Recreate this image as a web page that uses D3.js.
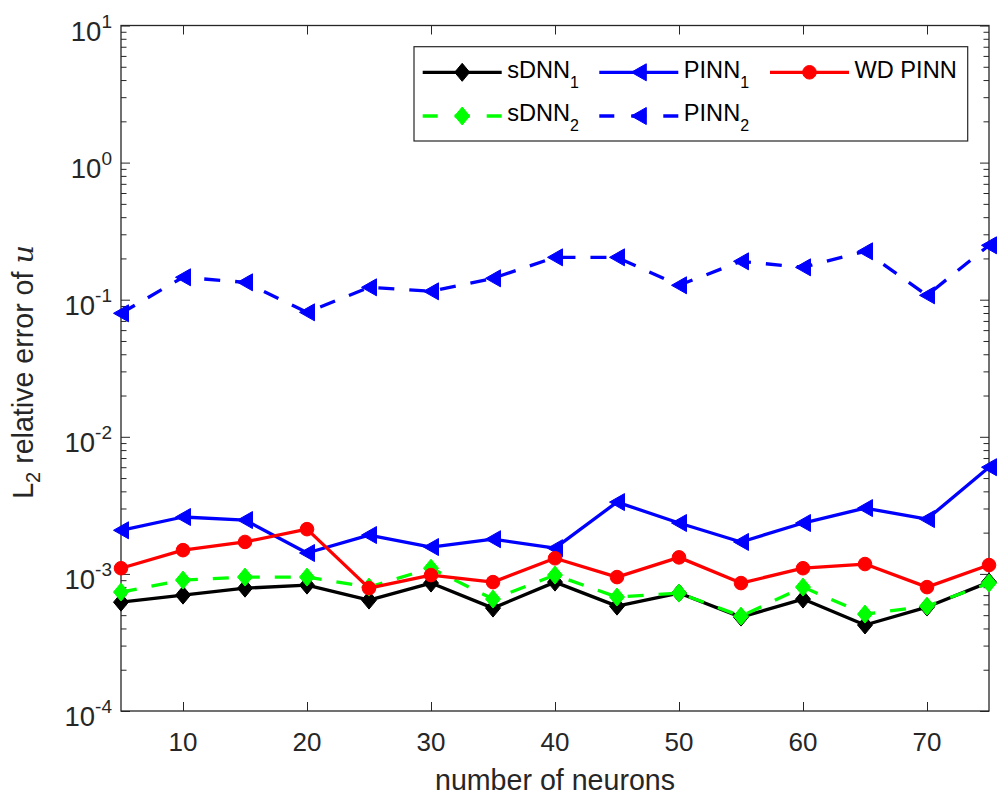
<!DOCTYPE html>
<html><head><meta charset="utf-8">
<script src="https://cdn.jsdelivr.net/npm/d3@7"></script>
<style>body{margin:0;background:#fff;}svg{display:block;font-family:"Liberation Sans",Arial,Helvetica,sans-serif;}</style>
</head><body>
<svg id="chart" width="997" height="803"></svg>
<script>
const neurons = [5,10,15,20,25,30,35,40,45,50,55,60,65,70,75];
const sDNN1 = [6.22e-4,7.00e-4,7.87e-4,8.28e-4,6.44e-4,8.57e-4,5.63e-4,8.71e-4,5.82e-4,7.25e-4,4.84e-4,6.55e-4,4.24e-4,5.73e-4,8.71e-4];
const sDNN2 = [7.37e-4,9.01e-4,9.48e-4,9.48e-4,8.01e-4,1.10e-3,6.55e-4,9.80e-4,6.78e-4,7.25e-4,4.92e-4,8.01e-4,5.09e-4,5.82e-4,8.57e-4];
const PINN1 = [2.08e-3,2.60e-3,2.47e-3,1.42e-3,1.92e-3,1.57e-3,1.79e-3,1.54e-3,3.34e-3,2.35e-3,1.71e-3,2.35e-3,3.02e-3,2.51e-3,6.0e-3];
const PINN2 = [0.0796,0.1457,0.1339,0.0809,0.1231,0.1151,0.1432,0.2037,0.2037,0.1274,0.1905,0.1722,0.2254,0.1076,0.2493];
const WDPINN = [1.10e-3,1.49e-3,1.71e-3,2.12e-3,7.87e-4,9.80e-4,8.71e-4,1.30e-3,9.48e-4,1.32e-3,8.57e-4,1.10e-3,1.18e-3,8.01e-4,1.16e-3];
const xTicks = [10,20,30,40,50,60,70];
const yTicks = [1e-4,1e-3,1e-2,1e-1,1,10];
const yTickExp = ["-4","-3","-2","-1","0","1"];
const seriesNames = ["sDNN","sDNN","PINN","PINN","WD PINN"];
const seriesSubs = ["1","2","1","2",""];

const L=121, R=989, T=25.5, B=711;
const axisColor="#262626";
const svg=d3.select("#chart");
const x=d3.scaleLinear().domain([5,75]).range([L,R]);
const y=d3.scaleLog().domain([1e-4,10]).range([B,T]);

const minor=[];
for(let k=-4;k<1;k++){for(let m=2;m<=9;m++){minor.push(m*Math.pow(10,k));}}

function styleAxis(g){g.select(".domain").remove();g.selectAll("line").attr("stroke",axisColor).attr("stroke-width",1);g.selectAll("text").remove();}
svg.append("g").attr("transform",`translate(0,${B})`).call(d3.axisBottom(x).tickValues(xTicks).tickSize(-9)).call(styleAxis);
svg.append("g").attr("transform",`translate(0,${T})`).call(d3.axisTop(x).tickValues(xTicks).tickSize(-9)).call(styleAxis);
svg.append("g").attr("transform",`translate(${L},0)`).call(d3.axisLeft(y).tickValues(yTicks).tickSize(-9)).call(styleAxis);
svg.append("g").attr("transform",`translate(${R},0)`).call(d3.axisRight(y).tickValues(yTicks).tickSize(-9)).call(styleAxis);
svg.append("g").attr("transform",`translate(${L},0)`).call(d3.axisLeft(y).tickValues(minor).tickSize(-5.5)).call(styleAxis);
svg.append("g").attr("transform",`translate(${R},0)`).call(d3.axisRight(y).tickValues(minor).tickSize(-5.5)).call(styleAxis);

svg.append("rect").attr("x",L).attr("y",T).attr("width",R-L).attr("height",B-T)
  .attr("fill","none").attr("stroke",axisColor).attr("stroke-width",1.3);

svg.append("g").selectAll("text").data(xTicks).join("text")
  .attr("x",d=>x(d)).attr("y",751).attr("text-anchor","middle")
  .attr("font-size",26).attr("fill",axisColor).text(d=>d);
const yl=svg.append("g").selectAll("text").data(yTicks).join("text")
  .attr("x",112).attr("y",d=>y(d)+15).attr("text-anchor","end")
  .attr("font-size",27.5).attr("fill",axisColor);
yl.append("tspan").text("10");
yl.append("tspan").attr("font-size",19).attr("dy",-13).text((d,i)=>yTickExp[i]);

svg.append("text").attr("x",(L+R)/2).attr("y",790).attr("text-anchor","middle")
  .attr("font-size",28.6).attr("fill",axisColor).text("number of neurons");
const ylab=svg.append("text").attr("transform",`translate(33,372) rotate(-90)`)
  .attr("text-anchor","middle").attr("font-size",28.6).attr("fill",axisColor);
ylab.append("tspan").text("L");
ylab.append("tspan").attr("font-size",20).attr("dy",7).text("2");
ylab.append("tspan").attr("dy",-7).text(" relative error of ");
ylab.append("tspan").attr("font-style","italic").attr("font-family","'DejaVu Serif','Liberation Serif',serif").text("u");

function markerPath(type){
  if(type==="diamond") return "M0,-9L7.5,0L0,9L-7.5,0Z";
  if(type==="tri") return "M-7.5,0L7.5,-8.5L7.5,8.5Z";
  return null;
}
const series=[
  {vals:sDNN1,color:"#000000",dash:null,marker:"diamond"},
  {vals:sDNN2,color:"#00ff00",dash:"16,15",marker:"diamond"},
  {vals:PINN1,color:"#0000ff",dash:null,marker:"tri"},
  {vals:PINN2,color:"#0000ff",dash:"16,15",marker:"tri"},
  {vals:WDPINN,color:"#ff0000",dash:null,marker:"circle"}
];
const line=d3.line().x(d=>x(d[0])).y(d=>y(d[1]));
function drawMarker(g,type,color){
  if(type==="circle") g.append("circle").attr("r",6.8).attr("fill",color).attr("stroke",color).attr("stroke-width",1);
  else g.append("path").attr("d",markerPath(type)).attr("fill",color).attr("stroke",color).attr("stroke-width",1).attr("stroke-linejoin","miter");
}
series.forEach(s=>{
  const pts=neurons.map((n,i)=>[n,s.vals[i]]);
  const g=svg.append("g");
  g.append("path").attr("d",line(pts)).attr("fill","none").attr("stroke",s.color)
    .attr("stroke-width",3.3).attr("stroke-dasharray",s.dash).attr("stroke-linejoin","round");
  pts.forEach(p=>{
    const mg=g.append("g").attr("transform",`translate(${x(p[0])},${y(p[1])})`);
    drawMarker(mg,s.marker,s.color);
  });
});

const lg=svg.append("g");
lg.append("rect").attr("x",414).attr("y",46.7).attr("width",553.7).attr("height",94.3)
  .attr("fill","#fff").attr("stroke",axisColor).attr("stroke-width",1.2);
const colX=[422.7,599.3,770];
const rowY=[72.3,116];
const pos=[[0,0],[0,1],[1,0],[1,1],[2,0]];
series.forEach((s,i)=>{
  const cx=colX[pos[i][0]], cy=rowY[pos[i][1]];
  lg.append("line").attr("x1",cx).attr("x2",cx+79).attr("y1",cy).attr("y2",cy)
    .attr("stroke",s.color).attr("stroke-width",3.3).attr("stroke-dasharray",s.dash?"15,17":null);
  const mg=lg.append("g").attr("transform",`translate(${cx+39.5},${cy})`);
  drawMarker(mg,s.marker,s.color);
  const t=lg.append("text").attr("x",cx+84.5).attr("y",cy+5.2).attr("font-size",23.6).attr("fill","#000");
  t.append("tspan").text(seriesNames[i]);
  if(seriesSubs[i]) t.append("tspan").attr("font-size",16).attr("dy",10).text(seriesSubs[i]);
});
</script>
</body></html>
